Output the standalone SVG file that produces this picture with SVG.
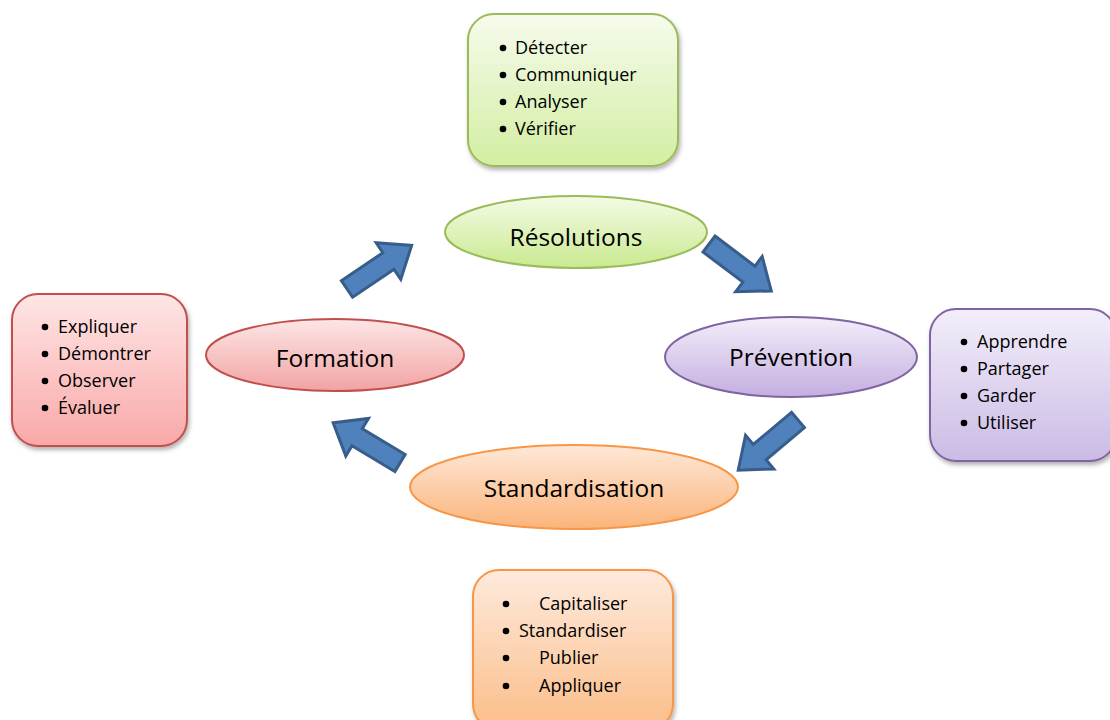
<svg xmlns="http://www.w3.org/2000/svg" width="1110" height="720" viewBox="0 0 1110 720">
<defs>
<filter id="sh" x="-20%" y="-20%" width="140%" height="150%"><feDropShadow dx="1.5" dy="3" stdDeviation="2.2" flood-color="#000" flood-opacity="0.3"/></filter>
<linearGradient id="gG" x1="0" y1="0" x2="0" y2="1"><stop offset="0" stop-color="#f6fbec"/><stop offset="1" stop-color="#d3eea2"/></linearGradient>
<linearGradient id="gR" x1="0" y1="0" x2="0" y2="1"><stop offset="0" stop-color="#ffe6e6"/><stop offset="1" stop-color="#f9a8a8"/></linearGradient>
<linearGradient id="gP" x1="0" y1="0" x2="0" y2="1"><stop offset="0" stop-color="#f3eefa"/><stop offset="1" stop-color="#cbbbe5"/></linearGradient>
<linearGradient id="gO" x1="0" y1="0" x2="0" y2="1"><stop offset="0" stop-color="#feeadd"/><stop offset="1" stop-color="#fbbd88"/></linearGradient>
<linearGradient id="eG" x1="0" y1="0" x2="0" y2="1"><stop offset="0" stop-color="#f4fbe6"/><stop offset="1" stop-color="#c9ea90"/></linearGradient>
<linearGradient id="eR" x1="0" y1="0" x2="0" y2="1"><stop offset="0" stop-color="#fde6e6"/><stop offset="1" stop-color="#f2a3a3"/></linearGradient>
<linearGradient id="eP" x1="0" y1="0" x2="0" y2="1"><stop offset="0" stop-color="#f3eefa"/><stop offset="1" stop-color="#c4aee0"/></linearGradient>
<linearGradient id="eO" x1="0" y1="0" x2="0" y2="1"><stop offset="0" stop-color="#fee8d8"/><stop offset="1" stop-color="#fbb47a"/></linearGradient>
<path id="arr" d="M0,-10 L50,-10 L50,-22 L78,0 L50,22 L50,10 L0,10 Z"/>
</defs>
<style>
.t{font-family:"Open Sans","Liberation Sans",sans-serif;font-size:18px;fill:#000}
.big{font-family:"Open Sans","Liberation Sans",sans-serif;font-size:24.5px;fill:#000;text-anchor:middle}
.a{fill:#4f81bd;stroke:#385d8a;stroke-width:3;stroke-linejoin:miter}
.b{fill:#000}
</style>
<rect width="1110" height="720" fill="#fff"/>

<g id="connectors">
<use href="#arr" class="a" transform="translate(347,289) rotate(-34)"/>
<use href="#arr" class="a" transform="translate(709,244) rotate(37)"/>
<use href="#arr" class="a" transform="translate(798,420) rotate(140)"/>
<use href="#arr" class="a" transform="translate(400,463) rotate(211)"/>
</g>

<g id="box-resolutions">
<rect x="468" y="14" width="210" height="152" rx="26" fill="url(#gG)" stroke="#9bbb59" stroke-width="2" filter="url(#sh)"/>
<circle class="b" cx="503" cy="48" r="3.3"/><circle class="b" cx="503" cy="75" r="3.3"/><circle class="b" cx="503" cy="102" r="3.3"/><circle class="b" cx="503" cy="129" r="3.3"/>
<text class="t" x="515" y="54">Détecter</text>
<text class="t" x="515" y="81">Communiquer</text>
<text class="t" x="515" y="108">Analyser</text>
<text class="t" x="515" y="135">Vérifier</text>
</g>

<g id="box-formation">
<rect x="12" y="294" width="175" height="152" rx="26" fill="url(#gR)" stroke="#c0504d" stroke-width="2" filter="url(#sh)"/>
<circle class="b" cx="45" cy="327" r="3.3"/><circle class="b" cx="45" cy="354" r="3.3"/><circle class="b" cx="45" cy="381" r="3.3"/><circle class="b" cx="45" cy="408" r="3.3"/>
<text class="t" x="58" y="333">Expliquer</text>
<text class="t" x="58" y="360">Démontrer</text>
<text class="t" x="58" y="387">Observer</text>
<text class="t" x="58" y="414">Évaluer</text>
</g>

<g id="box-prevention">
<rect x="930" y="309" width="186" height="152" rx="26" fill="url(#gP)" stroke="#8064a2" stroke-width="2" filter="url(#sh)"/>
<circle class="b" cx="964" cy="342" r="3.3"/><circle class="b" cx="964" cy="369" r="3.3"/><circle class="b" cx="964" cy="396" r="3.3"/><circle class="b" cx="964" cy="423" r="3.3"/>
<text class="t" x="977" y="348">Apprendre</text>
<text class="t" x="977" y="375">Partager</text>
<text class="t" x="977" y="402">Garder</text>
<text class="t" x="977" y="429">Utiliser</text>
</g>

<g id="box-standardisation">
<rect x="473" y="570" width="200" height="160" rx="26" fill="url(#gO)" stroke="#f79646" stroke-width="2" filter="url(#sh)"/>
<circle class="b" cx="506" cy="604" r="3.3"/><circle class="b" cx="506" cy="631" r="3.3"/><circle class="b" cx="506" cy="658" r="3.3"/><circle class="b" cx="506" cy="686" r="3.3"/>
<text class="t" x="539" y="610">Capitaliser</text>
<text class="t" x="519" y="637">Standardiser</text>
<text class="t" x="539" y="664">Publier</text>
<text class="t" x="539" y="692">Appliquer</text>
</g>

<g id="node-resolutions">
<ellipse cx="576" cy="232" rx="131" ry="36" fill="url(#eG)" stroke="#9bbb59" stroke-width="2"/>
<text class="big" x="576" y="246">Résolutions</text>
</g>
<g id="node-prevention">
<ellipse cx="791" cy="357" rx="126" ry="40" fill="url(#eP)" stroke="#8064a2" stroke-width="2"/>
<text class="big" x="791" y="366">Prévention</text>
</g>
<g id="node-formation">
<ellipse cx="335" cy="355" rx="129" ry="36" fill="url(#eR)" stroke="#c0504d" stroke-width="2"/>
<text class="big" x="335" y="367">Formation</text>
</g>
<g id="node-standardisation">
<ellipse cx="574" cy="487" rx="164" ry="42" fill="url(#eO)" stroke="#f79646" stroke-width="2"/>
<text class="big" x="574" y="497">Standardisation</text>
</g>
</svg>
